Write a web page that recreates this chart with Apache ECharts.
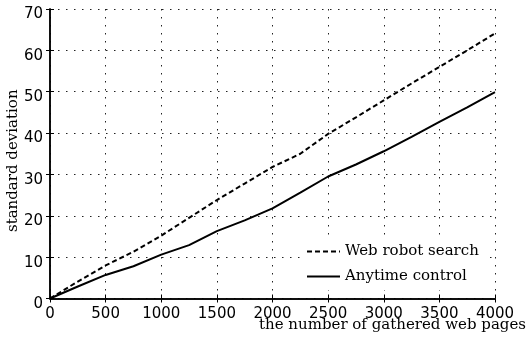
<!DOCTYPE html>
<html>
<head>
<meta charset="utf-8">
<script src="https://cdn.jsdelivr.net/npm/echarts@6/dist/echarts.min.js"></script>
<style>
  html, body { margin: 0; padding: 0; background: #fff; }
  #chart { width: 528px; height: 343px; }
</style>
</head>
<body>
<div id="chart"></div>
<script>
// Data
var pages = [0, 250, 500, 750, 1000, 1250, 1500, 1750, 2000, 2250, 2500, 2750, 3000, 3250, 3500, 3750, 4000];
var webRobotSearch = [0, 4.1, 8.0, 11.3, 15.2, 19.5, 23.8, 27.8, 31.8, 35.0, 39.8, 43.8, 47.9, 52.0, 56.0, 60.0, 64.1];
var anytimeControl = [0, 2.9, 5.7, 7.8, 10.6, 12.9, 16.3, 18.9, 21.8, 25.6, 29.5, 32.4, 35.6, 39.1, 42.7, 46.2, 49.9];
var seriesNames = ['Web robot search', 'Anytime control'];
var xTitle = 'the number of gathered web pages';
var yTitle = 'standard deviation';

function pairs(xs, ys) { return xs.map(function (x, i) { return [x, ys[i]]; }); }

var sansFont = 'DejaVu Sans';
var serifFont = 'DejaVu Serif';
var gridLine = { show: true, lineStyle: { color: '#222', width: 1, type: [1.5, 6.5] } };

var chart = echarts.init(document.getElementById('chart'), null, { renderer: 'canvas' });
chart.setOption({
  animation: false,
  backgroundColor: '#fff',
  title: {
    text: xTitle, right: 2, top: 318, padding: 0,
    textStyle: { fontFamily: serifFont, fontSize: 15, fontWeight: 'normal', color: '#000' }
  },
  grid: { left: 50, right: 33, top: 9, bottom: 44.5, containLabel: false, outerBoundsMode: 'none' },
  xAxis: [{
    type: 'value', min: 0, max: 4000, interval: 500,
    axisLine: { show: true, onZero: false, lineStyle: { color: '#000', width: 1.5 } },
    axisTick: { show: true, inside: true, length: 4, lineStyle: { color: '#000' } },
    axisLabel: { fontFamily: sansFont, fontSize: 15, color: '#000', margin: 8, hideOverlap: false,
      formatter: function (v) { return String(v); } },
    splitLine: gridLine
  }, {
    type: 'value', position: 'top', min: 0, max: 4000, interval: 500,
    axisLine: { show: true, lineStyle: { color: '#000', width: 1.5 } },
    axisTick: { show: true, inside: true, length: 4, lineStyle: { color: '#000' } },
    axisLabel: { show: false }, splitLine: { show: false }
  }],
  yAxis: [{
    type: 'value', min: 0, max: 70, interval: 10,
    name: yTitle, nameLocation: 'middle', nameGap: 29, nameRotate: 90, nameMoveOverlap: false,
    nameTextStyle: { fontFamily: serifFont, fontSize: 15, color: '#000', padding: [0, 0, 0, -14] },
    axisLine: { show: true, onZero: false, lineStyle: { color: '#000', width: 1.5 } },
    axisTick: { show: true, inside: true, length: 4, lineStyle: { color: '#000' } },
    axisLabel: { fontFamily: sansFont, fontSize: 15, color: '#000', margin: 7,
      verticalAlign: 'top', lineHeight: 11,
      formatter: function (v) { return String(v); } },
    splitLine: gridLine
  }, {
    type: 'value', position: 'right', min: 0, max: 70, interval: 10,
    axisLine: { show: true, lineStyle: { color: '#000', width: 1.5 } },
    axisTick: { show: true, inside: true, length: 4, lineStyle: { color: '#000' } },
    axisLabel: { show: false }, splitLine: { show: false }
  }],
  legend: {
    orient: 'vertical', left: 302, top: 240,
    backgroundColor: '#fff', padding: [4, 6, 6, 4],
    itemWidth: 33, itemHeight: 12, itemGap: 10,
    itemStyle: { opacity: 0 },
    textStyle: { fontFamily: serifFont, fontSize: 15, color: '#000' },
    data: seriesNames
  },
  series: [{
    name: seriesNames[0], type: 'line', symbol: 'none', showSymbol: false,
    lineStyle: { color: '#000', width: 2, type: [5, 3] },
    itemStyle: { color: '#000' },
    data: pairs(pages, webRobotSearch)
  }, {
    name: seriesNames[1], type: 'line', symbol: 'none', showSymbol: false,
    lineStyle: { color: '#000', width: 2, type: 'solid' },
    itemStyle: { color: '#000' },
    data: pairs(pages, anytimeControl)
  }]
});
</script>
</body>
</html>
